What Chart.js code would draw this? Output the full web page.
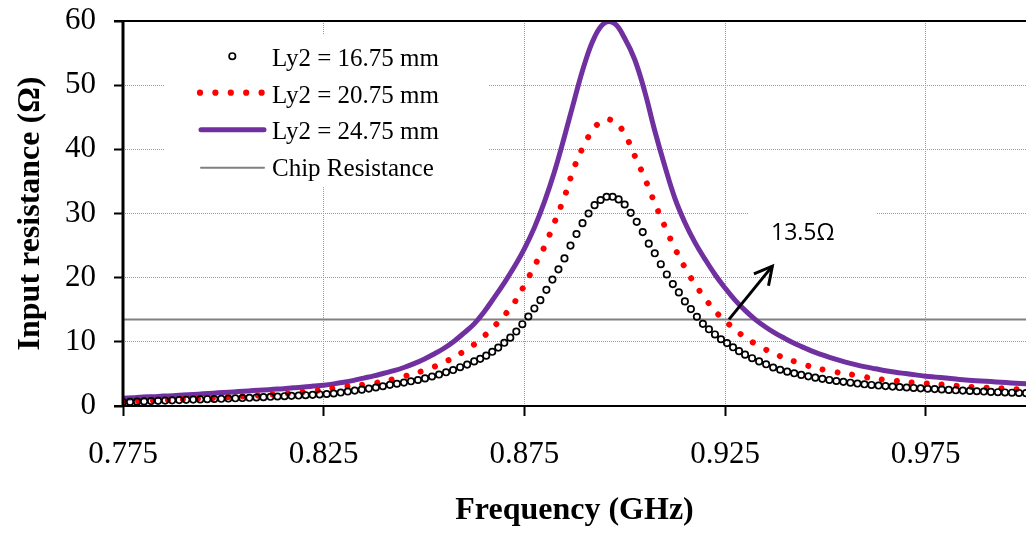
<!DOCTYPE html>
<html>
<head>
<meta charset="utf-8">
<script src="https://cdn.jsdelivr.net/npm/chart.js@4.4.1/dist/chart.umd.min.js"></script>
<style>
  html, body { margin: 0; padding: 0; background: #ffffff; }
  #wrap { width: 1026px; height: 534px; position: relative; }
</style>
</head>
<body>
<div id="wrap"><canvas id="chart" width="1026" height="534"></canvas></div>
<script>
// ---- axis ticks ----
const xTickValues = [0.775, 0.825, 0.875, 0.925, 0.975];
const yTickStep = 10;

// ---- series labels ----
const seriesLabels = ['Ly2 = 16.75 mm', 'Ly2 = 20.75 mm', 'Ly2 = 24.75 mm', 'Chip Resistance'];

// ---- frequency sweeps (GHz) ----
// continuous curves: 0.775 .. 1.000 every 2.5 MHz
const curveSweep = { start: 0.775, step: 0.0025, count: 91 };
// marker sweep: coarser in the tails, finer around resonance
const markerSweep = [
  { start: 0.775,  step: 0.00175, count: 50 },
  { start: 0.8625, step: 0.0015,  count: 45 },
  { start: 0.93,   step: 0.00175, count: 41 }
];

// ---- input resistance (ohm) ----
const rLy2_16_75 = [
  0.6, 0.64, 0.68, 0.72, 0.76, 0.8, 0.84, 0.88, 0.92, 0.96,
  1.0, 1.03, 1.06, 1.09, 1.12, 1.16, 1.2, 1.24, 1.28, 1.33,
  1.38, 1.43, 1.48, 1.53, 1.58, 1.63, 1.68, 1.74, 1.8, 1.87,
  1.95, 2.1, 2.25, 2.4, 2.55, 2.71, 2.88, 3.08, 3.3, 3.47,
  3.65, 3.85, 4.05, 4.3, 4.6, 4.9, 5.25, 5.6, 6.05, 6.45,
  6.95, 7.35, 7.85, 8.45, 9.1, 9.85, 10.65, 11.6, 12.75, 13.95,
  15.2, 16.5, 18.1, 19.7, 21.3, 23.0, 25.0, 26.8, 28.5, 30.0,
  31.3, 32.1, 32.6, 32.6, 32.2, 31.4, 30.1, 28.7, 27.1, 25.3,
  23.8, 22.1, 20.5, 19.0, 17.7, 16.3, 15.1, 13.9, 12.8, 11.95,
  11.15, 10.4, 9.8, 9.15, 8.55,
  8.0, 7.45, 6.95, 6.5, 6.0, 5.65, 5.35, 5.1, 4.85, 4.62,
  4.42, 4.23, 4.06, 3.9, 3.76, 3.63, 3.5, 3.38, 3.28, 3.19,
  3.1, 3.02, 2.95, 2.88, 2.81, 2.75, 2.69, 2.63, 2.57, 2.51,
  2.45, 2.4, 2.35, 2.3, 2.25, 2.2, 2.15, 2.11, 2.07, 2.03,
  2.0
];
const rLy2_20_75 = [
  0.7, 0.75, 0.8, 0.85, 0.9, 1.0, 1.05, 1.1, 1.2, 1.25,
  1.35, 1.4, 1.5, 1.6, 1.7, 1.8, 1.9, 2.05, 2.2, 2.35,
  2.55, 2.8, 3.0, 3.2, 3.35, 3.55, 3.85, 4.2, 4.6, 5.1,
  5.5, 6.1, 6.8, 7.6, 8.55, 9.6, 10.9, 12.4, 14.1, 16.1,
  18.8, 21.8, 24.8, 28.6, 32.6, 37.3, 40.8, 43.4, 44.6, 44.3,
  42.4, 39.0, 35.5, 31.6, 28.0, 24.6, 21.6, 19.0, 16.8, 14.8,
  13.3, 11.9, 10.7, 9.7, 8.85, 8.1, 7.45, 6.9, 6.4, 5.95,
  5.6, 5.3, 5.05, 4.8, 4.5, 4.3, 4.05, 3.9, 3.75, 3.62,
  3.5, 3.42, 3.28, 3.15, 3.0, 2.95, 2.85, 2.78, 2.72, 2.63,
  2.55
];
const rLy2_24_75 = [
  1.2, 1.3, 1.4, 1.45, 1.55, 1.6, 1.7, 1.8, 1.9, 2.0,
  2.1, 2.2, 2.3, 2.4, 2.5, 2.6, 2.7, 2.85, 2.95, 3.1,
  3.25, 3.45, 3.7, 4.0, 4.35, 4.7, 5.1, 5.5, 6.0, 6.6,
  7.3, 8.1, 9.0, 10.1, 11.4, 12.8, 14.7, 16.9, 19.2, 21.7,
  24.5, 27.8, 31.8, 36.5, 42.0, 47.8, 53.3, 57.5, 59.7, 59.6,
  57.3, 54.0, 49.0, 42.9, 37.4, 32.4, 28.6, 25.5, 22.9, 20.5,
  18.4, 16.5, 14.9, 13.5, 12.35, 11.35, 10.5, 9.7, 9.0, 8.35,
  7.8, 7.3, 6.85, 6.45, 6.1, 5.8, 5.5, 5.25, 5.05, 4.85,
  4.65, 4.5, 4.35, 4.2, 4.05, 3.95, 3.85, 3.75, 3.65, 3.55,
  3.45
];
const chipResistance = 13.5;
const chipSpan = [0.775, 1.0];

// ---- build sweeps ----
function sweep(seg) {
  const out = [];
  for (let i = 0; i < seg.count; i++) out.push(+(seg.start + seg.step * i).toFixed(5));
  return out;
}
const curveFreq = sweep(curveSweep);
const markerFreq = markerSweep.flatMap(sweep);
const pts = (xs, ys) => xs.map((x, i) => ({ x, y: ys[i] }));

const SERIF = '"Liberation Serif", "Times New Roman", serif';
const PURPLE = '#7030a0';
const RED = '#ff0000';
const GREY = '#808080';
const GRID = '#9a9a9a';

// keep the plot box exactly where the layout puts it
const noScalePadding = s => { s.paddingLeft = 0; s.paddingRight = 0; s.paddingTop = 0; s.paddingBottom = 0; };

// white panels, legend, arrow label and axis frame
const overlay = {
  id: 'overlay',
  beforeDatasetsDraw(chart) {
    const c = chart.ctx;
    c.save();
    c.fillStyle = '#ffffff';
    c.fillRect(165, 35, 323, 152);   // legend panel
    c.fillRect(748, 196, 128, 64);   // value label panel
    c.restore();
  },
  afterDatasetsDraw(chart) {
    const c = chart.ctx;
    const { left, right, top, bottom } = chart.chartArea;
    const xs = chart.scales.x, ys = chart.scales.y;
    c.save();

    // axis frame
    c.strokeStyle = '#000';
    c.lineCap = 'butt';
    c.lineWidth = 2;
    c.beginPath(); c.moveTo(left - 9, top); c.lineTo(right, top); c.stroke();
    c.beginPath(); c.moveTo(left - 9, bottom); c.lineTo(right, bottom); c.stroke();
    c.lineWidth = 3;
    c.beginPath(); c.moveTo(left, top - 1); c.lineTo(left, bottom + 1); c.stroke();

    // legend
    const ds = chart.data.datasets;
    const rows = [65.7, 102.5, 139.3, 176];
    c.font = '25px ' + SERIF;
    c.fillStyle = '#000';
    c.textAlign = 'left';
    c.textBaseline = 'alphabetic';
    rows.forEach((b, i) => c.fillText(ds[i].label, 272, b));
    c.lineWidth = 1.7; c.strokeStyle = '#000';
    c.beginPath(); c.arc(232.3, rows[0] - 9.5, 3.2, 0, Math.PI * 2); c.stroke();
    c.fillStyle = RED;
    for (let k = 0; k < 5; k++) {
      c.beginPath(); c.arc(200 + 15.4 * k, rows[1] - 9.8, 3.1, 0, Math.PI * 2); c.fill();
    }
    c.lineCap = 'round';
    c.strokeStyle = PURPLE; c.lineWidth = 5;
    c.beginPath(); c.moveTo(201, rows[2] - 9.6); c.lineTo(264, rows[2] - 9.6); c.stroke();
    c.strokeStyle = GREY; c.lineWidth = 2;
    c.beginPath(); c.moveTo(201, rows[3] - 8.3); c.lineTo(264, rows[3] - 8.3); c.stroke();

    // arrow pointing from the chip resistance line to its value
    const tx = xs.getPixelForValue(0.926), ty = ys.getPixelForValue(chipResistance);
    const hx = xs.getPixelForValue(0.9368), hy = ys.getPixelForValue(21.8);
    c.strokeStyle = '#000'; c.lineWidth = 3; c.lineCap = 'butt'; c.lineJoin = 'miter';
    c.beginPath(); c.moveTo(tx, ty); c.lineTo(hx, hy); c.stroke();
    const ang = Math.atan2(ty - hy, tx - hx), hl = 20, ha = 0.49;
    c.beginPath();
    c.moveTo(hx + hl * Math.cos(ang + ha), hy + hl * Math.sin(ang + ha));
    c.lineTo(hx, hy);
    c.lineTo(hx + hl * Math.cos(ang - ha), hy + hl * Math.sin(ang - ha));
    c.stroke();

    c.font = '23px "Open Sans", sans-serif';
    c.fillStyle = '#000';
    c.fillText(chipResistance.toFixed(1) + 'Ω', 771, 240);
    c.restore();
  }
};

new Chart(document.getElementById('chart'), {
  type: 'line',
  data: {
    datasets: [
      {
        label: seriesLabels[0],
        data: pts(markerFreq, rLy2_16_75),
        showLine: false,
        pointStyle: 'circle',
        pointRadius: 3.2,
        pointBorderWidth: 1.7,
        pointBorderColor: '#000',
        pointBackgroundColor: 'rgba(255,255,255,0)',
        borderColor: '#000'
      },
      {
        label: seriesLabels[1],
        data: pts(curveFreq, rLy2_20_75),
        borderColor: RED,
        borderWidth: 6,
        borderDash: [0.001, 15],
        borderCapStyle: 'round',
        tension: 0.4,
        pointRadius: 0
      },
      {
        label: seriesLabels[2],
        data: pts(curveFreq, rLy2_24_75),
        borderColor: PURPLE,
        borderWidth: 5,
        borderCapStyle: 'round',
        borderJoinStyle: 'round',
        tension: 0.4,
        pointRadius: 0
      },
      {
        label: seriesLabels[3],
        data: chipSpan.map(x => ({ x, y: chipResistance })),
        borderColor: GREY,
        borderWidth: 2,
        pointRadius: 0
      }
    ]
  },
  options: {
    responsive: false,
    animation: false,
    events: [],
    layout: { autoPadding: false, padding: { left: 0, right: 0, top: 21, bottom: 0 } },
    plugins: { legend: { display: false }, tooltip: { enabled: false } },
    scales: {
      x: {
        type: 'linear',
        min: 0.775,
        max: 1.0,
        afterBuildTicks: s => { s.ticks = xTickValues.map(v => ({ value: v })); },
        afterFit: s => { s.height = 128; noScalePadding(s); },
        ticks: {
          autoSkip: false,
          maxRotation: 0,
          padding: 20,
          color: '#000',
          font: { family: SERIF, size: 31 },
          callback: v => Number(v).toFixed(3)
        },
        grid: {
          color: GRID,
          lineWidth: 1,
          tickLength: 10,
          tickColor: '#000',
          tickWidth: 2,
          tickBorderDash: []
        },
        border: { display: false, dash: [1, 1] },
        title: {
          display: true,
          text: 'Frequency (GHz)',
          color: '#000',
          font: { family: SERIF, size: 32, weight: 'bold' },
          padding: { top: 0, bottom: 4 }
        }
      },
      y: {
        min: 0,
        max: 60,
        afterFit: s => { s.width = 123; noScalePadding(s); },
        ticks: {
          stepSize: yTickStep,
          padding: 18,
          color: '#000',
          font: { family: SERIF, size: 31 }
        },
        grid: {
          color: GRID,
          lineWidth: 1,
          tickLength: 9,
          tickColor: '#000',
          tickWidth: 2,
          tickBorderDash: []
        },
        border: { display: false, dash: [1, 1] },
        title: {
          display: true,
          text: 'Input resistance (Ω)',
          color: '#000',
          font: { family: SERIF, size: 32, weight: 'bold' },
          padding: { top: 12, bottom: 0 }
        }
      }
    }
  },
  plugins: [overlay]
});
</script>
</body>
</html>
